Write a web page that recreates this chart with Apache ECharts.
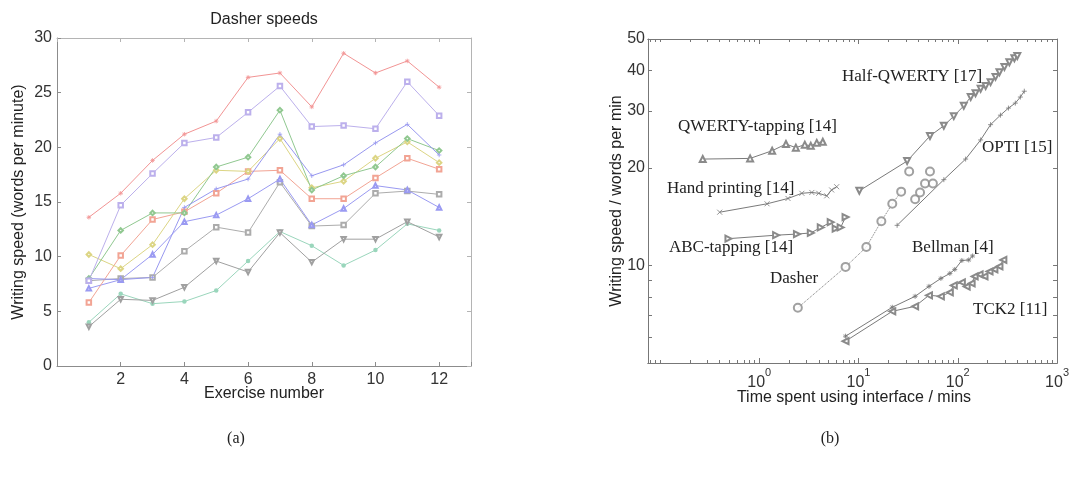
<!DOCTYPE html>
<html>
<head>
<meta charset="utf-8">
<title>Dasher speeds</title>
<script src="https://cdn.jsdelivr.net/npm/echarts@6/dist/echarts.min.js"></script>
<style>
html, body { margin: 0; padding: 0; background: #fff; }
#chart { width: 1072px; height: 479px; }
</style>
</head>
<body>
<div id="chart"></div>
<script>
// (a) Dasher speeds, words per minute for exercise 1..12
var exercise = [1, 2, 3, 4, 5, 6, 7, 8, 9, 10, 11, 12];
var redStar = [13.6, 15.8, 18.8, 21.2, 22.4, 26.4, 26.8, 23.7, 28.6, 26.8, 27.9, 25.5];
var lilacSquare = [7.8, 14.7, 17.6, 20.4, 20.9, 23.2, 25.6, 21.9, 22.0, 21.7, 26.0, 22.9];
var bluePlus = [8.0, 7.9, 8.1, 14.5, 16.2, 17.1, 21.2, 17.4, 18.4, 20.4, 22.1, 19.3];
var greenHex = [8.0, 12.4, 14.0, 14.0, 18.2, 19.1, 23.4, 16.1, 17.4, 18.2, 20.8, 19.7];
var yellowDiamond = [10.2, 8.9, 11.1, 15.3, 17.9, 17.8, 20.8, 16.3, 16.9, 19.0, 20.5, 18.6];
var orangeSquare = [5.8, 10.1, 13.4, 14.1, 15.8, 17.8, 17.9, 15.3, 15.3, 17.2, 19.0, 18.0];
var blueTriangle = [7.1, 7.9, 10.2, 13.2, 13.8, 15.3, 17.1, 12.9, 14.4, 16.5, 16.1, 14.5];
var grayCircle = [7.8, 8.0, 8.1, 10.5, 12.7, 12.2, 16.8, 12.8, 12.9, 15.8, 16.0, 15.7];
var grayTriDown = [3.6, 6.1, 6.0, 7.2, 9.6, 8.6, 12.2, 9.5, 11.6, 11.6, 13.2, 11.8];
var tealDot = [4.0, 6.6, 5.7, 5.9, 6.9, 9.6, 12.3, 11.0, 9.2, 10.6, 13.0, 12.4];

// (b) time spent (mins) vs writing speed (wpm), log-log
var qwertyT = [0.27, 0.81, 1.35, 1.86, 2.34, 2.88, 3.31, 3.80, 4.37];
var qwertyV = [21.3, 21.4, 22.6, 23.7, 23.1, 23.6, 23.4, 23.9, 24.1];
var handT = [0.40, 1.20, 1.95, 2.69, 3.39, 3.98, 4.79, 5.37, 6.03];
var handV = [14.6, 15.5, 16.1, 16.7, 16.8, 16.7, 16.4, 17.1, 17.5];
var abcT = [0.49, 1.48, 2.40, 3.31, 4.17, 5.25, 5.89, 6.61, 7.41];
var abcV = [12.1, 12.4, 12.5, 12.6, 13.1, 13.6, 13.0, 13.1, 14.1];
var dasherT = [2.45, 7.41, 12.0, 17.0, 21.9, 26.9, 32.4, 37.2, 41.7, 46.8, 52.5, 56.2];
var dasherV = [7.4, 9.9, 11.4, 13.7, 15.5, 16.9, 19.5, 16.0, 16.8, 17.9, 19.5, 17.9];
var halfT = [10.2, 30.9, 52.5, 72.4, 91.2, 115, 135, 151, 170, 191, 214, 240, 263, 295, 331, 372, 398];
var halfV = [17.0, 21.0, 25.1, 27.0, 28.9, 31.1, 33.1, 34.0, 35.1, 35.8, 36.8, 38.2, 39.5, 41.0, 42.4, 43.6, 44.3];
var optiT = [24.5, 72.4, 120, 170, 214, 269, 324, 380, 427, 468];
var optiV = [13.3, 18.4, 21.3, 24.4, 27.2, 29.1, 30.6, 31.7, 33.1, 34.5];
var bellmanT = [7.41, 21.9, 37.2, 51.3, 67.6, 83.2, 93.3, 110, 129, 141];
var bellmanV = [6.05, 7.43, 8.03, 8.62, 9.12, 9.45, 9.72, 10.36, 10.4, 10.7];
var tckT = [7.41, 21.9, 37.2, 51.3, 67.6, 83.2, 91.2, 110, 123, 138, 148, 166, 186, 209, 234, 263, 288];
var tckV = [5.84, 7.22, 7.48, 8.09, 8.03, 8.26, 8.68, 8.87, 8.61, 8.80, 9.25, 9.38, 9.25, 9.58, 9.72, 9.93, 10.4];

var yLabelVals = [10, 20, 30, 40, 50];
var yTickVals = [5, 6, 7, 8, 9, 10, 20, 30, 40, 50];
var xMajorExp = [0, 1, 2, 3];

var SANS = 'Liberation Sans, Arial, sans-serif';
var SERIF = 'Liberation Serif, Times New Roman, serif';
var STAR = 'path://M5,0L5,10M0,5L10,5M1.5,1.5L8.5,8.5M8.5,1.5L1.5,8.5';
var PLUS = 'path://M5,0L5,10M0,5L10,5';
var CROSS = 'path://M0,0L10,10M10,0L0,10';

var LOGX_MIN = -1.12, LOGX_MAX = 3;
var xMinorTicks = [];
for (var d = -2; d <= 2; d++) {
  for (var k = 1; k <= 9; k++) {
    var lv = Math.log10(k * Math.pow(10, d));
    if (k === 1 && d >= 0) continue;
    if (lv >= LOGX_MIN && lv <= LOGX_MAX) xMinorTicks.push(lv);
  }
}

function lin(arr, color, symbol, rotate) {
  var line = symbol.indexOf('path://') === 0;
  return {
    type: 'line', xAxisIndex: 0, yAxisIndex: 0,
    data: exercise.map(function (x, i) { return [x, arr[i]]; }),
    symbol: symbol, symbolSize: 4.5, symbolRotate: rotate || 0,
    lineStyle: { color: color, width: 1 },
    itemStyle: line ? { color: 'rgba(0,0,0,0)', borderColor: color, borderWidth: 0.8 } : { color: color, borderWidth: 0.8 },
    z: 3
  };
}

function logSeries(ts, vs, symbol, opts) {
  opts = opts || {};
  var line = symbol.indexOf('path://') === 0;
  return {
    type: opts.scatter ? 'scatter' : 'line', xAxisIndex: 2, yAxisIndex: 2,
    data: ts.map(function (t, i) { return [Math.log10(t), Math.log10(vs[i])]; }),
    symbol: symbol, symbolSize: opts.size || 6, symbolRotate: opts.rotate || 0,
    showSymbol: symbol !== 'none',
    lineStyle: { color: '#7a7a7a', width: 1, type: opts.dotted ? 'dotted' : 'solid' },
    itemStyle: line ? { color: 'rgba(0,0,0,0)', borderColor: '#777', borderWidth: 0.8 } : { color: '#8a8a8a', borderWidth: 0.8 },
    z: 3
  };
}

function axisBase(gridIndex, color) {
  return {
    gridIndex: gridIndex, type: 'value',
    axisLine: { show: true, onZero: false, lineStyle: { color: color, width: 1 } },
    splitLine: { show: false }
  };
}

var chart = echarts.init(document.getElementById('chart'));

var xAxes = [
  Object.assign(axisBase(0, '#8c8c8c'), {
    position: 'bottom', min: 0, max: 13, interval: 2,
    axisTick: { inside: true, length: 4, lineStyle: { color: '#8c8c8c' } },
    axisLabel: { margin: 6, fontSize: 16, fontFamily: SANS, color: '#333',
      formatter: function (v) { return (v === 0 || v % 2) ? '' : v; } }
  }),
  Object.assign(axisBase(0, '#b4b4b4'), {
    position: 'top', min: 0, max: 13, interval: 2,
    axisTick: { inside: true, length: 4, lineStyle: { color: '#b4b4b4' } },
    axisLabel: { show: false }
  }),
  Object.assign(axisBase(1, '#777'), {
    position: 'bottom', min: LOGX_MIN, max: LOGX_MAX,
    axisTick: { inside: true, length: 5, customValues: xMajorExp, lineStyle: { color: '#777' } },
    axisLabel: {
      customValues: xMajorExp, margin: 4, color: '#333',
      formatter: function (v) { return '{b|10}{s|' + Math.round(v) + '}'; },
      rich: {
        b: { fontSize: 16, fontFamily: SANS, color: '#333', lineHeight: 24, verticalAlign: 'bottom' },
        s: { fontSize: 11, fontFamily: SANS, color: '#333', lineHeight: 14, verticalAlign: 'top' }
      }
    }
  }),
  Object.assign(axisBase(1, '#777'), {
    position: 'bottom', min: LOGX_MIN, max: LOGX_MAX,
    axisTick: { inside: true, length: 3, customValues: xMinorTicks, lineStyle: { color: '#777' } },
    axisLabel: { show: false }
  }),
  Object.assign(axisBase(1, '#777'), {
    position: 'top', min: LOGX_MIN, max: LOGX_MAX,
    axisTick: { inside: true, length: 5, customValues: xMajorExp, lineStyle: { color: '#777' } },
    axisLabel: { show: false }
  }),
  Object.assign(axisBase(1, '#777'), {
    position: 'top', min: LOGX_MIN, max: LOGX_MAX,
    axisTick: { inside: true, length: 3, customValues: xMinorTicks, lineStyle: { color: '#777' } },
    axisLabel: { show: false }
  })
];

var yLogTicks = yTickVals.map(Math.log10);
var yLogLabels = yLabelVals.map(Math.log10);

var yAxes = [
  Object.assign(axisBase(0, '#8c8c8c'), {
    position: 'left', min: 0, max: 30, interval: 5,
    axisTick: { inside: true, length: 4, lineStyle: { color: '#8c8c8c' } },
    axisLabel: { margin: 5, fontSize: 16, fontFamily: SANS, color: '#333' }
  }),
  Object.assign(axisBase(0, '#b4b4b4'), {
    position: 'right', min: 0, max: 30, interval: 5,
    axisTick: { inside: true, length: 4, lineStyle: { color: '#b4b4b4' } },
    axisLabel: { show: false }
  }),
  Object.assign(axisBase(1, '#777'), {
    position: 'left', min: Math.log10(5), max: Math.log10(50),
    axisTick: { inside: true, length: 4, customValues: yLogTicks, lineStyle: { color: '#777' } },
    axisLabel: { customValues: yLogLabels, margin: 3, fontSize: 16, fontFamily: SANS, color: '#333',
      formatter: function (v) { return Math.round(Math.pow(10, v)); } }
  }),
  Object.assign(axisBase(1, '#777'), {
    position: 'right', min: Math.log10(5), max: Math.log10(50),
    axisTick: { inside: true, length: 4, customValues: yLogTicks, lineStyle: { color: '#777' } },
    axisLabel: { show: false }
  })
];

function txt(x, y, s, font, opts) {
  opts = opts || {};
  return {
    type: 'text', x: x, y: y, rotation: opts.rot || 0, z: 10,
    style: { text: s, font: font, fill: opts.fill || '#222',
      textAlign: opts.align || 'left', textVerticalAlign: 'middle' }
  };
}

var option = {
  animation: false,
  backgroundColor: '#fff',
  grid: [
    { left: 57, top: 38, width: 414, height: 328 },
    { left: 648, top: 39, width: 412, height: 324 }
  ],
  xAxis: xAxes,
  yAxis: yAxes,
  series: [
    lin(tealDot, '#9ad6bc', 'circle'),
    lin(grayTriDown, '#a0a0a0', 'emptyTriangle', 180),
    lin(grayCircle, '#acacac', 'emptyRect'),
    lin(blueTriangle, '#9a9af2', 'emptyTriangle'),
    lin(orangeSquare, '#f2a494', 'emptyRect'),
    lin(yellowDiamond, '#dcd584', 'emptyDiamond'),
    lin(greenHex, '#90c890', 'emptyDiamond'),
    lin(bluePlus, '#9898f0', PLUS),
    lin(lilacSquare, '#bcb0ec', 'emptyRect'),
    lin(redStar, '#f29494', STAR),

    logSeries(qwertyT, qwertyV, 'emptyTriangle'),
    logSeries(handT, handV, CROSS, { size: 5 }),
    logSeries(abcT, abcV, 'emptyTriangle', { rotate: -90 }),
    logSeries(dasherT.slice(0, 6), dasherV.slice(0, 6), 'none', { dotted: true }),
    logSeries(dasherT, dasherV, 'emptyCircle', { scatter: true, size: 8 }),
    logSeries(halfT, halfV, 'emptyTriangle', { rotate: 180 }),
    logSeries(optiT, optiV, PLUS, { size: 5 }),
    logSeries(bellmanT, bellmanV, STAR, { size: 5 }),
    logSeries(tckT, tckV, 'emptyTriangle', { rotate: 90 })
  ],
  graphic: [
    txt(264, 20, 'Dasher speeds', '16px ' + SANS, { align: 'center' }),
    txt(19, 202, 'Writing speed (words per minute)', '16px ' + SANS, { align: 'center', rot: Math.PI / 2 }),
    txt(264, 394, 'Exercise number', '16px ' + SANS, { align: 'center' }),
    txt(617, 201, 'Writing speed / words per min', '16px ' + SANS, { align: 'center', rot: Math.PI / 2 }),
    txt(854, 398, 'Time spent using interface / mins', '16px ' + SANS, { align: 'center' }),
    txt(236, 439, '(a)', '16px ' + SERIF, { align: 'center' }),
    txt(830, 439, '(b)', '16px ' + SERIF, { align: 'center' }),
    txt(678, 127, 'QWERTY-tapping [14]', '17px ' + SERIF),
    txt(667, 189, 'Hand printing [14]', '17px ' + SERIF),
    txt(669, 248, 'ABC-tapping [14]', '17px ' + SERIF),
    txt(770, 279, 'Dasher', '17px ' + SERIF),
    txt(842, 77, 'Half-QWERTY [17]', '17px ' + SERIF),
    txt(982, 148, 'OPTI [15]', '17px ' + SERIF),
    txt(912, 248, 'Bellman [4]', '17px ' + SERIF),
    txt(973, 310, 'TCK2 [11]', '17px ' + SERIF)
  ]
};

chart.setOption(option);
</script>
</body>
</html>
